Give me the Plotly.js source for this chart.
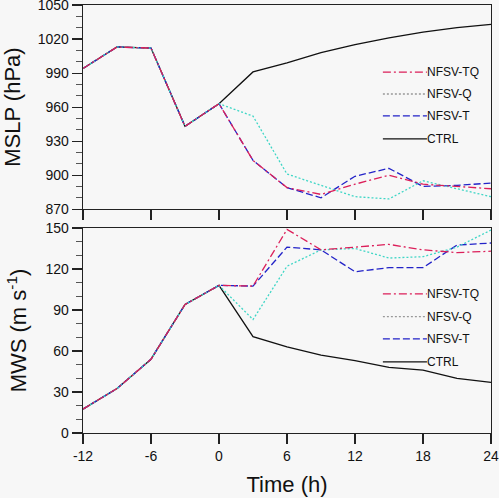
<!DOCTYPE html>
<html>
<head>
<meta charset="utf-8">
<script src="https://cdn.plot.ly/plotly-3.0.1.min.js"></script>
<style>html,body{margin:0;padding:0;background:#f7f7f7;}#chart{width:499px;height:498px;}</style>
</head>
<body>
<div id="chart"></div>
<script>
const hours = [-12, -9, -6, -3, 0, 3, 6, 9, 12, 15, 18, 21, 24];
const seriesNames = ['NFSV-TQ', 'NFSV-Q', 'NFSV-T', 'CTRL'];

const mslpTQ   = [994, 1013, 1012, 943, 963, 913, 889, 883, 892, 900, 892, 890, 888];
const mslpQ    = [994, 1013, 1012, 943, 963, 952, 901, 891, 881, 879, 895, 888, 881];
const mslpT    = [994, 1013, 1012, 943, 963, 913, 889, 880, 899, 906, 890, 891, 893];
const mslpCTRL = [994, 1013, 1012, 943, 963, 991, 999, 1008, 1015, 1021, 1026, 1030, 1033];

const mwsTQ   = [17.5, 32.5, 54, 94, 108, 107.5, 149, 134, 136, 138, 134, 132, 133];
const mwsQ    = [17.5, 32.5, 54, 94, 108, 83, 122, 134, 135, 128, 129, 136, 148.5];
const mwsT    = [17.5, 32.5, 54, 94, 108, 107.5, 136, 134, 118, 121, 121, 137.5, 139];
const mwsCTRL = [17.5, 32.5, 54, 94, 108, 70.5, 63, 57, 53, 48, 46, 40, 37];

const xTicks = [-12, -6, 0, 6, 12, 18, 24];
const xTickText = ['-12', '-6', '0', '6', '12', '18', '24'];
const mslpTicks = [870, 900, 930, 960, 990, 1020, 1050];
const mwsTicks = [0, 30, 60, 90, 120, 150];

const styles = {
  'NFSV-TQ': {color: '#dc1f5a', dash: '8px,3px,2px,3px', legendColor: '#dc1f5a'},
  'NFSV-Q':  {color: '#3fd6c6', dash: '2px,2px', legendColor: '#999999'},
  'NFSV-T':  {color: '#2323c8', dash: '7px,3px', legendColor: '#2323c8'},
  'CTRL':    {color: '#111111', dash: 'solid', legendColor: '#111111'}
};

const topData = {'NFSV-TQ': mslpTQ, 'NFSV-Q': mslpQ, 'NFSV-T': mslpT, 'CTRL': mslpCTRL};
const botData = {'NFSV-TQ': mwsTQ, 'NFSV-Q': mwsQ, 'NFSV-T': mwsT, 'CTRL': mwsCTRL};

const drawOrder = ['CTRL', 'NFSV-T', 'NFSV-Q', 'NFSV-TQ'];
const traces = [];
drawOrder.forEach(n => {
  traces.push({x: hours, y: topData[n], xaxis: 'x', yaxis: 'y', mode: 'lines', name: n, showlegend: false,
    line: {color: styles[n].color, dash: styles[n].dash, width: 1.3}});
  traces.push({x: hours, y: botData[n], xaxis: 'x2', yaxis: 'y2', mode: 'lines', name: n, showlegend: false,
    line: {color: styles[n].color, dash: styles[n].dash, width: 1.3}});
});

// legend keys (shapes + annotations) in paper coordinates
const shapes = [];
const annotations = [];
const legendTopRows = [0.843, 0.792, 0.741, 0.687];
const legendBotRows = [0.325, 0.272, 0.220, 0.166];
const lx0 = 0.735, lx1 = 0.843;
seriesNames.forEach((n, i) => {
  [legendTopRows[i], legendBotRows[i]].forEach(yy => {
    shapes.push({type: 'line', xref: 'paper', yref: 'paper', x0: lx0, x1: lx1, y0: yy, y1: yy,
      line: {color: styles[n].legendColor, width: 1.3, dash: styles[n].dash}});
    annotations.push({xref: 'paper', yref: 'paper', x: lx1, y: yy, xanchor: 'left', yanchor: 'middle',
      text: n, showarrow: false, xshift: -2, font: {size: 12, color: '#111', family: 'Liberation Sans, Arial, sans-serif'}});
  });
});

const axisCommon = {
  showgrid: false, zeroline: false, showline: true, linecolor: '#222', linewidth: 1.3,
  ticks: 'outside', ticklen: 10, tickwidth: 1.1, tickcolor: '#222',
  tickfont: {size: 14, color: '#111'}, ticklabeloverflow: 'allow'
};

const layout = {
  width: 499, height: 498,
  paper_bgcolor: '#f7f7f7', plot_bgcolor: '#f7f7f7',
  font: {family: 'Liberation Sans, Arial, sans-serif', color: '#111'},
  margin: {l: 83, r: 8, t: 5, b: 65},
  showlegend: false,
  xaxis: Object.assign({}, axisCommon, {domain: [0, 1], anchor: 'y', range: [-12, 24], tickvals: xTicks,
    ticktext: xTickText, showticklabels: false, mirror: true}),
  yaxis: Object.assign({}, axisCommon, {domain: [0.523, 1], anchor: 'x', range: [870, 1050], tickvals: mslpTicks, mirror: true,
    minor: {dtick: 10, ticks: 'outside', ticklen: 6, tickcolor: '#555', tickwidth: 1},
    title: {text: 'MSLP (hPa)', font: {size: 22, color: '#111'}, standoff: 12}}),
  xaxis2: Object.assign({}, axisCommon, {domain: [0, 1], anchor: 'y2', range: [-12, 24], tickvals: xTicks,
    ticktext: xTickText, mirror: true, title: {text: 'Time (h)', font: {size: 22, color: '#111'}, standoff: 13}}),
  yaxis2: Object.assign({}, axisCommon, {domain: [0, 0.479], anchor: 'x2', range: [0, 150], tickvals: mwsTicks, mirror: true,
    minor: {dtick: 10, ticks: 'outside', ticklen: 6, tickcolor: '#555', tickwidth: 1},
    title: {text: 'MWS (m s<sup>-1</sup>)', font: {size: 22, color: '#111'}, standoff: 12}}),
  shapes: shapes,
  annotations: annotations
};

Plotly.newPlot('chart', traces, layout, {displayModeBar: false, staticPlot: true});
</script>
</body>
</html>
